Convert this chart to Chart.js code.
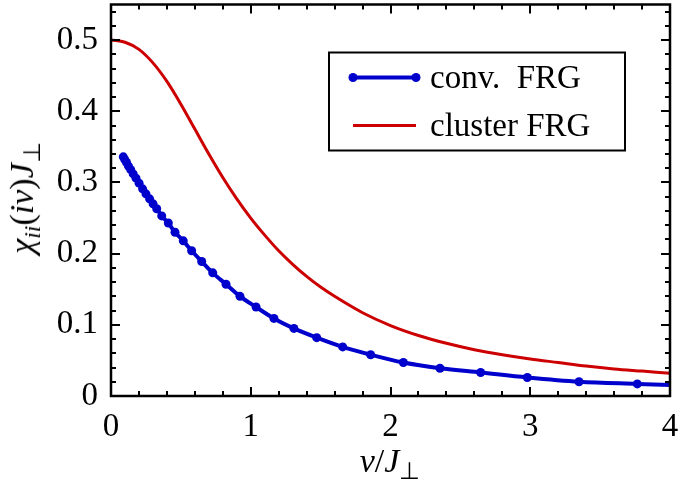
<!DOCTYPE html>
<html>
<head>
<meta charset="utf-8">
<title>chi_ii(i nu)</title>
<script src="https://cdn.jsdelivr.net/npm/chart.js@4/dist/chart.umd.min.js"></script>
<style>
    body { margin: 0; background: #fff; }
    #wrap { position: relative; width: 682px; height: 482px; }
    .axis-title {
        position: absolute;
        font-family: "Liberation Serif", serif;
        font-size: 34px;
        color: #000;
        white-space: nowrap;
        line-height: 1;
    }
    .axis-title i { font-style: italic; }
    .axis-title sub { font-size: 70%; vertical-align: -0.3em; line-height: 0; }
    #xTitle { left: 390px; top: 461px; transform: translate(-50%, -50%); }
    #yTitle { left: 22px; top: 198px; transform: translate(-50%, -50%) rotate(-90deg); }
</style>
</head>
<body>
<div id="wrap">
    <canvas id="chiChart" width="682" height="482"></canvas>
    <div class="axis-title" id="xTitle"><i>ν</i>/<i>J</i><sub>⊥</sub></div>
    <div class="axis-title" id="yTitle"><i>χ</i><sub><i>ii</i></sub>(<i>iν</i>)<i>J</i><sub>⊥</sub></div>
</div>
<script>
// Dữ liệu: conv. FRG (các điểm đo)
const convX = [0.088, 0.099, 0.111, 0.125, 0.141, 0.159, 0.179, 0.201, 0.226, 0.250,
    0.276, 0.301, 0.327, 0.363, 0.410, 0.458, 0.517, 0.577, 0.649, 0.728,
    0.823, 0.923, 1.038, 1.166, 1.309, 1.472, 1.658, 1.858, 2.092, 2.354,
    2.645, 2.979, 3.349, 3.766, 4.240];
const convY = [0.336, 0.332, 0.328, 0.323, 0.318, 0.312, 0.306, 0.299, 0.291, 0.284,
    0.277, 0.270, 0.263, 0.253, 0.243, 0.230, 0.218, 0.204, 0.189, 0.173,
    0.157, 0.140, 0.125, 0.109, 0.095, 0.082, 0.069, 0.058, 0.047, 0.039,
    0.033, 0.026, 0.020, 0.017, 0.014];

// Dữ liệu: cluster FRG (đường liền)
const clusterX = [0, 0.1, 0.2, 0.3, 0.4, 0.5, 0.6, 0.7, 0.8, 0.9,
    1.0, 1.1, 1.2, 1.3, 1.4, 1.5, 1.6, 1.8, 2.0, 2.2,
    2.4, 2.6, 2.8, 3.0, 3.2, 3.4, 3.6, 3.8, 4.0];
const clusterY = [0.500, 0.497, 0.487, 0.468, 0.442, 0.410, 0.375, 0.340, 0.307, 0.277,
    0.250, 0.226, 0.204, 0.185, 0.168, 0.153, 0.140, 0.117, 0.099, 0.085,
    0.074, 0.065, 0.058, 0.052, 0.047, 0.042, 0.038, 0.035, 0.032];

// Trục
const xTicks = [0, 1, 2, 3, 4];
const yTicks = [0, 0.1, 0.2, 0.3, 0.4, 0.5];
const xRange = [0, 4];
const yRange = [0, 0.55];
const xMinorStep = 0.2;
const yMinorStep = 0.02;

const seriesLabels = ['conv. FRG', 'cluster FRG'];
const seriesColors = ['#0000cc', '#cc0000'];

const serif = '"Liberation Serif", "Times New Roman", serif';

function toPoints(xs, ys) {
    return xs.map((x, i) => ({ x: x, y: ys[i] }));
}

// Khung và vạch chia hướng vào trong, trên cả 4 cạnh
const framePlugin = {
    id: 'frame',
    afterDatasetsDraw(chart) {
        const ctx = chart.ctx;
        const area = chart.chartArea;
        const sx = chart.scales.x;
        const sy = chart.scales.y;
        ctx.save();
        ctx.strokeStyle = '#000';
        ctx.lineWidth = 2;
        ctx.lineCap = 'butt';

        // vạch trục x
        const nx = Math.round((xRange[1] - xRange[0]) / xMinorStep);
        for (let i = 1; i < nx; i++) {
            const v = xRange[0] + i * xMinorStep;
            const major = xTicks.some(t => Math.abs(t - v) < 1e-9);
            const len = major ? 9 : 5;
            const px = Math.round(sx.getPixelForValue(v));
            ctx.beginPath();
            ctx.moveTo(px, area.bottom);
            ctx.lineTo(px, area.bottom - len);
            ctx.moveTo(px, area.top);
            ctx.lineTo(px, area.top + len);
            ctx.stroke();
        }

        // vạch trục y
        const ny = Math.round((yRange[1] - yRange[0]) / yMinorStep);
        for (let i = 1; i <= ny; i++) {
            const v = yRange[0] + i * yMinorStep;
            if (v >= yRange[1] - 1e-9) break;
            const major = yTicks.some(t => Math.abs(t - v) < 1e-9);
            const len = major ? 9 : 5;
            const py = Math.round(sy.getPixelForValue(v));
            ctx.beginPath();
            ctx.moveTo(area.left, py);
            ctx.lineTo(area.left + len, py);
            ctx.moveTo(area.right, py);
            ctx.lineTo(area.right - len, py);
            ctx.stroke();
        }

        // khung
        ctx.lineWidth = 2.5;
        ctx.strokeRect(area.left, area.top, area.right - area.left, area.bottom - area.top);
        ctx.restore();
    }
};

// Chú thích đặt bên trong vùng vẽ
const legendPlugin = {
    id: 'insideLegend',
    afterDraw(chart) {
        const ctx = chart.ctx;
        const area = chart.chartArea;
        const boxLeft = area.left + 218;
        const boxTop = area.top + 48;
        const boxW = 296;
        const boxH = 98;
        ctx.save();
        ctx.fillStyle = '#fff';
        ctx.fillRect(boxLeft, boxTop, boxW, boxH);
        ctx.strokeStyle = '#000';
        ctx.lineWidth = 2;
        ctx.strokeRect(boxLeft, boxTop, boxW, boxH);

        ctx.font = '33px ' + serif;
        ctx.textBaseline = 'middle';
        ctx.fillStyle = '#000';
        chart.data.datasets.forEach((ds, i) => {
            const y = boxTop + 25 + i * 48;
            const x0 = boxLeft + 24;
            const x1 = boxLeft + 87;
            ctx.strokeStyle = ds.borderColor;
            ctx.lineWidth = ds.borderWidth;
            ctx.beginPath();
            ctx.moveTo(x0, y);
            ctx.lineTo(x1, y);
            ctx.stroke();
            if (ds.pointRadius > 0) {
                ctx.fillStyle = ds.borderColor;
                [x0, x1].forEach(px => {
                    ctx.beginPath();
                    ctx.arc(px, y, ds.pointRadius, 0, Math.PI * 2);
                    ctx.fill();
                });
            }
            ctx.fillStyle = '#000';
            ctx.fillText(ds.label.replace('. ', '.\u2002'), boxLeft + 101, y + 2);
        });
        ctx.restore();
    }
};

function initChart() {
    const chiCtx = document.getElementById('chiChart');
    if (!chiCtx) return;
    new Chart(chiCtx, {
        type: 'line',
        data: {
            datasets: [{
                label: seriesLabels[0],
                data: toPoints(convX, convY),
                borderColor: seriesColors[0],
                backgroundColor: seriesColors[0],
                borderWidth: 4,
                pointRadius: 4.5,
                pointHoverRadius: 4.5,
                pointBorderWidth: 0,
                pointBackgroundColor: seriesColors[0],
                cubicInterpolationMode: 'monotone',
                fill: false
            }, {
                label: seriesLabels[1],
                data: toPoints(clusterX, clusterY),
                borderColor: seriesColors[1],
                backgroundColor: seriesColors[1],
                borderWidth: 3,
                pointRadius: 0,
                cubicInterpolationMode: 'monotone',
                fill: false
            }]
        },
        options: {
            responsive: false,
            animation: false,
            devicePixelRatio: 1,
            layout: { padding: { left: 0, right: 12, top: 4, bottom: 0 } },
            plugins: {
                legend: { display: false },
                tooltip: { enabled: false }
            },
            scales: {
                x: {
                    type: 'linear',
                    min: xRange[0],
                    max: xRange[1],
                    afterFit: scale => {
                        scale.height = 86;
                        scale.paddingLeft = 0;
                        scale.paddingRight = 0;
                    },
                    afterBuildTicks: scale => { scale.ticks = xTicks.map(v => ({ value: v })); },
                    grid: { display: false, drawTicks: false },
                    border: { display: false },
                    ticks: {
                        padding: 12,
                        color: '#000',
                        font: { family: serif, size: 33 },
                        maxRotation: 0
                    }
                },
                y: {
                    type: 'linear',
                    min: yRange[0],
                    max: yRange[1],
                    afterFit: scale => {
                        scale.width = 111;
                        scale.paddingTop = 0;
                        scale.paddingBottom = 0;
                    },
                    afterBuildTicks: scale => { scale.ticks = yTicks.map(v => ({ value: v })); },
                    grid: { display: false, drawTicks: false },
                    border: { display: false },
                    ticks: {
                        padding: 13,
                        color: '#000',
                        font: { family: serif, size: 33 }
                    }
                }
            }
        },
        plugins: [framePlugin, legendPlugin]
    });
}

document.addEventListener('DOMContentLoaded', initChart);
</script>
</body>
</html>
